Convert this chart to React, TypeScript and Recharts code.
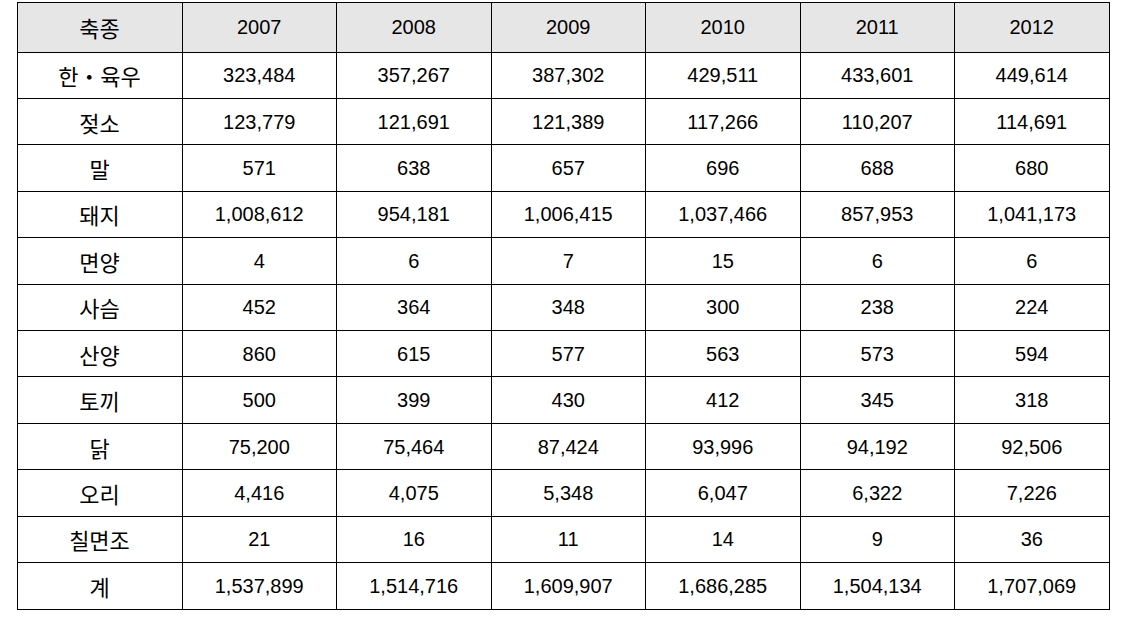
import { Scatter, ScatterChart, XAxis, YAxis } from "recharts";

const years = ["2007", "2008", "2009", "2010", "2011", "2012"];
const kinds = ["한・육우", "젖소", "말", "돼지", "면양", "사슴", "산양", "토끼", "닭", "오리", "칠면조", "계"];
const headLabel = "축종";

const v2007 = [323484, 123779, 571, 1008612, 4, 452, 860, 500, 75200, 4416, 21, 1537899];
const v2008 = [357267, 121691, 638, 954181, 6, 364, 615, 399, 75464, 4075, 16, 1514716];
const v2009 = [387302, 121389, 657, 1006415, 7, 348, 577, 430, 87424, 5348, 11, 1609907];
const v2010 = [429511, 117266, 696, 1037466, 15, 300, 563, 412, 93996, 6047, 14, 1686285];
const v2011 = [433601, 110207, 688, 857953, 6, 238, 573, 345, 94192, 6322, 9, 1504134];
const v2012 = [449614, 114691, 680, 1041173, 6, 224, 594, 318, 92506, 7226, 36, 1707069];

const byYear = [v2007, v2008, v2009, v2010, v2011, v2012];

const cells = kinds.flatMap((kind, r) =>
  years.map((year, c) => ({ kind, year, value: byYear[c][r] }))
);

const W = 1129;
const H = 617;
const LEFT = 17;
const LABEL_W = 165;
const TOP = 2;
const HEAD_H = 50;
const RIGHT = 20;
const BOTTOM = 8;
const COL_W = (W - RIGHT - LEFT - LABEL_W) / years.length;
const ROW_H = (H - BOTTOM - TOP - HEAD_H) / kinds.length;

const FONT = "'Liberation Sans', Arial, 'Noto Sans CJK KR', sans-serif";
const textStyle = { fontFamily: FONT, fontSize: 20, fill: "#000" };
const koStyle = { fontFamily: "'Noto Sans CJK KR', sans-serif", fontSize: 22, fill: "#000" };

function HeadTick({ x, payload, index }: any) {
  return (
    <g>
      {index === 0 && (
        <g>
          <rect x={LEFT} y={TOP} width={LABEL_W} height={HEAD_H} fill="#e6e6e6" stroke="#000" shapeRendering="crispEdges" />
          <text x={LEFT + LABEL_W / 2} y={TOP + HEAD_H / 2} textAnchor="middle" dominantBaseline="central" style={koStyle}>
            {headLabel}
          </text>
        </g>
      )}
      <rect x={x - COL_W / 2} y={TOP} width={COL_W} height={HEAD_H} fill="#e6e6e6" stroke="#000" shapeRendering="crispEdges" />
      <text x={x} y={TOP + HEAD_H / 2} textAnchor="middle" dominantBaseline="central" style={textStyle}>
        {payload.value}
      </text>
    </g>
  );
}

function KindTick({ y, payload }: any) {
  return (
    <g>
      <rect x={LEFT} y={y - ROW_H / 2} width={LABEL_W} height={ROW_H} fill="#fff" stroke="#000" shapeRendering="crispEdges" />
      <text x={LEFT + LABEL_W / 2} y={y} textAnchor="middle" dominantBaseline="central" style={koStyle}>
        {payload.value}
      </text>
    </g>
  );
}

function ValueCell({ cx, cy, payload }: any) {
  return (
    <g>
      <rect x={cx - COL_W / 2} y={cy - ROW_H / 2} width={COL_W} height={ROW_H} fill="#fff" stroke="#000" shapeRendering="crispEdges" />
      <text x={cx} y={cy} textAnchor="middle" dominantBaseline="central" style={textStyle}>
        {payload.value.toLocaleString("en-US")}
      </text>
    </g>
  );
}

export default function App() {
  return (
    <div style={{ position: "absolute", left: 0, top: 0, background: "#fff" }}>
      <ScatterChart
        width={W}
        height={H}
        margin={{ top: TOP, right: RIGHT, bottom: BOTTOM, left: LEFT }}
      >
        <XAxis
          xAxisId="yr"
          type="category"
          dataKey="year"
          orientation="top"
          height={HEAD_H}
          allowDuplicatedCategory={false}
          axisLine={false}
          tickLine={false}
          interval={0}
          tick={<HeadTick />}
        />
        <YAxis
          yAxisId="kd"
          type="category"
          dataKey="kind"
          width={LABEL_W}
          reversed
          allowDuplicatedCategory={false}
          axisLine={false}
          tickLine={false}
          interval={0}
          tick={<KindTick />}
        />
        <Scatter
          xAxisId="yr"
          yAxisId="kd"
          data={cells}
          shape={<ValueCell />}
          isAnimationActive={false}
        />
      </ScatterChart>
    </div>
  );
}
